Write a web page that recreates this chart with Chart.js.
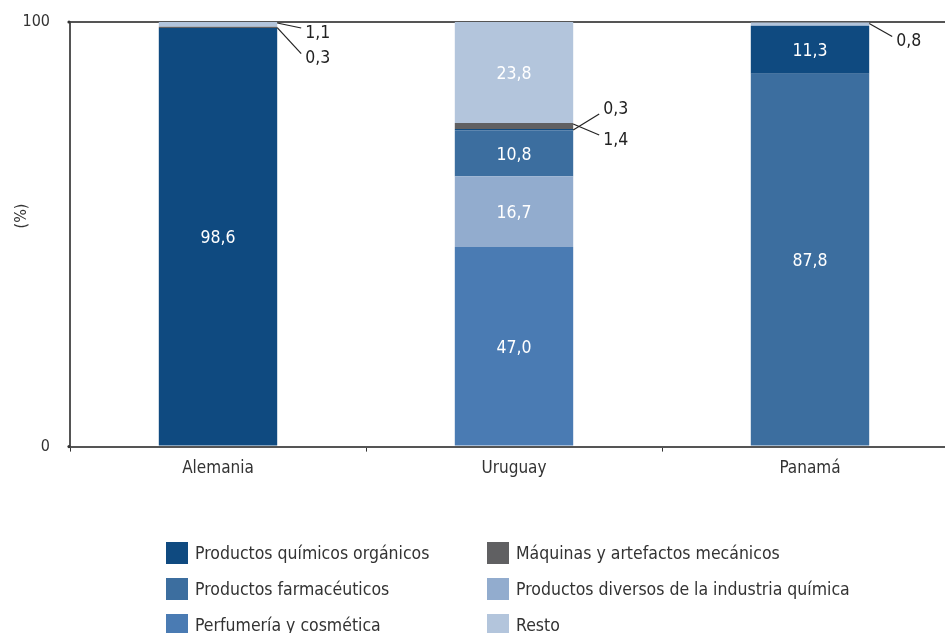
<!DOCTYPE html>
<html>
<head>
<meta charset="utf-8">
<script src="https://cdn.jsdelivr.net/npm/chart.js@4.4.1/dist/chart.umd.min.js"></script>
<style>
  html, body { margin: 0; padding: 0; background: #fff; overflow: hidden; }
  /* the source chart runs a little past the right edge of the picture */
  #wrap { position: relative; width: 958px; height: 633px; }
</style>
</head>
<body>
<div id="wrap"><canvas id="chart"></canvas></div>
<script>
const FONT = "'Liberation Sans Narrow', 'DejaVu Sans Condensed', 'Roboto', sans-serif";

const categories = ['Alemania', 'Uruguay', 'Panamá'];

// stacked from bottom to top
const perfumeria    = [0, 47.0, 0];
const diversos      = [0, 16.7, 0];
const farmaceuticos = [0, 10.8, 87.8];
const organicos     = [98.6, 0.3, 11.3];
const maquinas      = [0.3, 1.4, 0];
const resto         = [1.1, 23.8, 0.8];

const yTicks = [0, 100];

const seriesNames = [
    'Perfumería y cosmética',
    'Productos diversos de la industria química',
    'Productos farmacéuticos',
    'Productos químicos orgánicos',
    'Máquinas y artefactos mecánicos',
    'Resto'
];
const seriesColors = ['#4a7bb3', '#92acce', '#3c6e9f', '#0f4a80', '#606062', '#b3c5dc'];
const seriesValues = [perfumeria, diversos, farmaceuticos, organicos, maquinas, resto];

// legend reads row by row, two columns
const legendOrder = [3, 4, 2, 1, 0, 5];

// where the small values go: [dataset, category, dx, dy] from the segment's right edge
const callouts = [
    [5, 0, 32, 8],
    [4, 0, 32, 29],
    [3, 1, 34, -19],
    [4, 1, 34, 14],
    [5, 2, 31, 16]
];

const fmt = v => v.toFixed(1).replace('.', ',');

const labelPlugin = {
    id: 'segLabels',
    afterDatasetsDraw(chart) {
        const ctx = chart.ctx;
        ctx.save();
        ctx.textBaseline = 'middle';
        chart.data.datasets.forEach((ds, di) => {
            const meta = chart.getDatasetMeta(di);
            meta.data.forEach((bar, ci) => {
                const v = ds.data[ci];
                if (v < 5) return;
                const p = bar.getProps(['x', 'y', 'base'], true);
                ctx.fillStyle = '#ffffff';
                ctx.font = '17.5px ' + FONT;
                ctx.textAlign = 'center';
                ctx.fillText(fmt(v), p.x, (p.y + p.base) / 2 + 2);
            });
        });
        callouts.forEach(([di, ci, dx, dy]) => {
            const v = chart.data.datasets[di].data[ci];
            const bar = chart.getDatasetMeta(di).data[ci];
            const p = bar.getProps(['x', 'y', 'base', 'width'], true);
            const x0 = p.x + p.width / 2;
            const y0 = Math.min(p.y, p.base) + 1;
            ctx.strokeStyle = '#222';
            ctx.lineWidth = 1.2;
            ctx.beginPath();
            ctx.moveTo(x0, y0);
            ctx.lineTo(x0 + dx - 8, y0 + dy + (dy > 0 ? -3 : 3));
            ctx.stroke();
            ctx.fillStyle = '#222';
            ctx.font = '17.5px ' + FONT;
            ctx.textAlign = 'left';
            ctx.fillText(fmt(v), x0 + dx - 4, y0 + dy + (dy > 0 ? 2 : -2));
        });
        ctx.restore();
    }
};

const legendPlugin = {
    id: 'gridLegend',
    afterDraw(chart) {
        const ctx = chart.ctx;
        ctx.save();
        ctx.font = '17.5px ' + FONT;
        ctx.textBaseline = 'middle';
        ctx.textAlign = 'left';
        legendOrder.forEach((di, k) => {
            const col = k % 2, row = Math.floor(k / 2);
            const x = col === 0 ? 166 : 487;
            const y = 553 + row * 36;
            ctx.fillStyle = seriesColors[di];
            ctx.fillRect(x, y - 11, 22, 22);
            ctx.fillStyle = '#333';
            ctx.fillText(seriesNames[di], x + 29, y + 1);
        });
        // axis title, drawn by hand so it can sit left of the tick labels
        ctx.translate(22, 216);
        ctx.rotate(-Math.PI / 2);
        ctx.textAlign = 'center';
        ctx.font = '16px ' + FONT;
        ctx.fillText('(%)', 0, 0);
        // small dots where the y ticks meet the axis
        ctx.setTransform(1, 0, 0, 1, 0, 0);
        ctx.scale(chart.currentDevicePixelRatio, chart.currentDevicePixelRatio);
        const y = chart.scales.y;
        ctx.fillStyle = '#333';
        yTicks.forEach(t => {
            ctx.beginPath();
            ctx.arc(y.right - 1, y.getPixelForValue(t), 1.6, 0, Math.PI * 2);
            ctx.fill();
        });
        ctx.restore();
    }
};

new Chart(document.getElementById('chart'), {
    type: 'bar',
    data: {
        labels: categories,
        datasets: seriesValues.map((vals, i) => ({
            label: seriesNames[i],
            data: vals,
            backgroundColor: seriesColors[i],
            borderWidth: 0,
            barPercentage: 0.8,
            categoryPercentage: 0.5
        }))
    },
    options: {
        responsive: true,
        maintainAspectRatio: false,
        animation: false,
        layout: { padding: { top: 22, right: 0, bottom: 147, left: 20 } },
        plugins: {
            legend: { display: false },
            tooltip: { enabled: false }
        },
        scales: {
            x: {
                stacked: true,
                offset: true,
                grid: {
                    offset: true,
                    drawOnChartArea: false,
                    drawTicks: true,
                    tickLength: 5,
                    color: '#333'
                },
                border: { color: '#555', width: 2 },
                ticks: {
                    color: '#333',
                    font: { family: FONT, size: 17 },
                    padding: 7
                }
            },
            y: {
                stacked: true,
                min: 0,
                max: 100,
                afterBuildTicks: axis => { axis.ticks = yTicks.map(v => ({ value: v })); },
                afterFit: axis => { axis.width = 50; },
                grid: {
                    color: c => c.tick && c.tick.value === 100 ? '#555' : 'rgba(0,0,0,0)',
                    tickColor: 'rgba(0,0,0,0)',
                    lineWidth: 2,
                    drawTicks: true,
                    tickLength: 18
                },
                border: { color: '#555', width: 2 },
                ticks: {
                    color: '#333',
                    font: { family: FONT, size: 16 },
                    padding: 2
                }
            }
        }
    },
    plugins: [labelPlugin, legendPlugin]
});
</script>
</body>
</html>
